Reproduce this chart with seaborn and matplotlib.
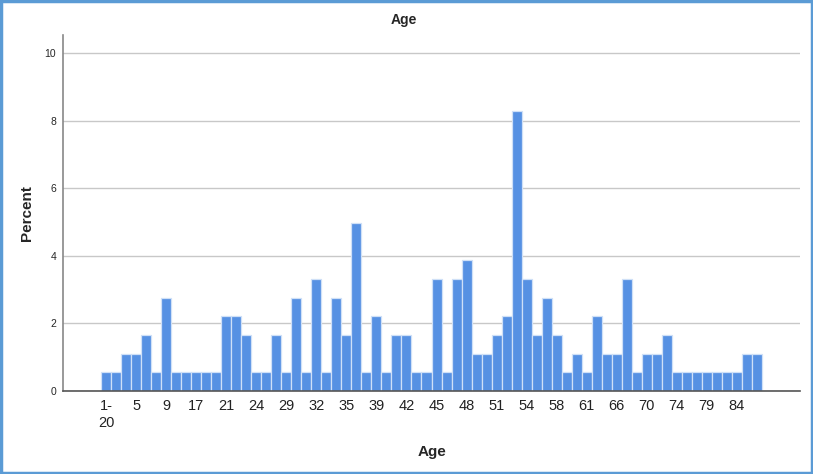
import seaborn as sns
import matplotlib
matplotlib.use("Agg")
import matplotlib.pyplot as plt
from matplotlib.patches import Rectangle
import pandas as pd

ages = ["1-20", "3", "4", "5", "7", "8", "9", "11", "15", "17", "18", "20",
        "21", "22", "23", "24", "26", "28", "29", "30", "31", "32", "33", "34",
        "35", "36", "37", "39", "40", "41", "42", "43", "44", "45", "46", "47",
        "48", "49", "50", "51", "52", "53", "54", "55", "57", "58", "59", "60",
        "61", "62", "65", "66", "67", "68", "70", "71", "72", "74", "75", "77",
        "79", "80", "82", "84", "85", "88"]
counts = [1, 1, 2, 2, 3, 1, 5, 1, 1, 1, 1, 1,
          4, 4, 3, 1, 1, 3, 1, 5, 1, 6, 1, 5,
          3, 9, 1, 4, 1, 3, 3, 1, 1, 6, 1, 6,
          7, 2, 2, 3, 4, 15, 6, 3, 5, 3, 1, 2,
          1, 4, 2, 2, 6, 1, 2, 2, 3, 1, 1, 1,
          1, 1, 1, 1, 2, 2]
yticks = [0, 2, 4, 6, 8, 10]

df = pd.DataFrame({"age": ages, "count": counts})
df["percent"] = df["count"] / df["count"].sum() * 100

sns.set_style("white")
plt.rcParams["font.family"] = ["Liberation Sans", "DejaVu Sans"]

fig = plt.figure(figsize=(8.13, 4.74), dpi=100)
ax = fig.add_axes([63 / 813, 1 - 391 / 474, 737 / 813, 356 / 474])

sns.barplot(data=df, x="age", y="percent", order=ages, color="#5691e3",
            width=1.0, edgecolor="#cfe0f7", linewidth=0.9, saturation=1, ax=ax)

ax.set_xlim(-4.3, 69.3)
ax.set_ylim(0, 10.53)
ax.set_yticks(yticks)
ax.set_yticklabels([str(v) for v in yticks], fontsize=7.5)
ax.yaxis.grid(True, color="#c8c8c8", linewidth=1)
ax.set_axisbelow(True)

pos = list(range(0, len(ages), 3))
ax.set_xticks(pos)
ax.set_xticklabels(["1-\n20" if ages[i] == "1-20" else ages[i] for i in pos],
                   fontsize=10.5, color="#222222", ha="center", va="top")
ax.tick_params(axis="both", length=0)
ax.tick_params(axis="x", pad=6)
ax.tick_params(axis="y", pad=5)

for s in ["top", "right"]:
    ax.spines[s].set_visible(False)
ax.spines["left"].set_color("#888888")
ax.spines["bottom"].set_color("#555555")
ax.spines["left"].set_linewidth(1.2)
ax.spines["bottom"].set_linewidth(1.2)

ax.set_xlabel("Age", fontsize=11, fontweight="bold")
ax.set_ylabel("Percent", fontsize=11, fontweight="bold")
ax.xaxis.set_label_coords(0.5, (391 - 452) / 356)
ax.yaxis.set_label_coords((27 - 63) / 737, 0.5)
ax.xaxis.label.set_va("center")
ax.yaxis.label.set_va("center")
fig.text(0.497, 1 - 20 / 474, "Age", ha="center", va="center",
         fontsize=10, fontweight="bold")

fig.patches.append(Rectangle((0.0015, 0.0025), 0.997, 0.995, transform=fig.transFigure,
                             fill=False, edgecolor="#5b9bd5", linewidth=2.5))

fig.savefig("out.png", dpi=100)
